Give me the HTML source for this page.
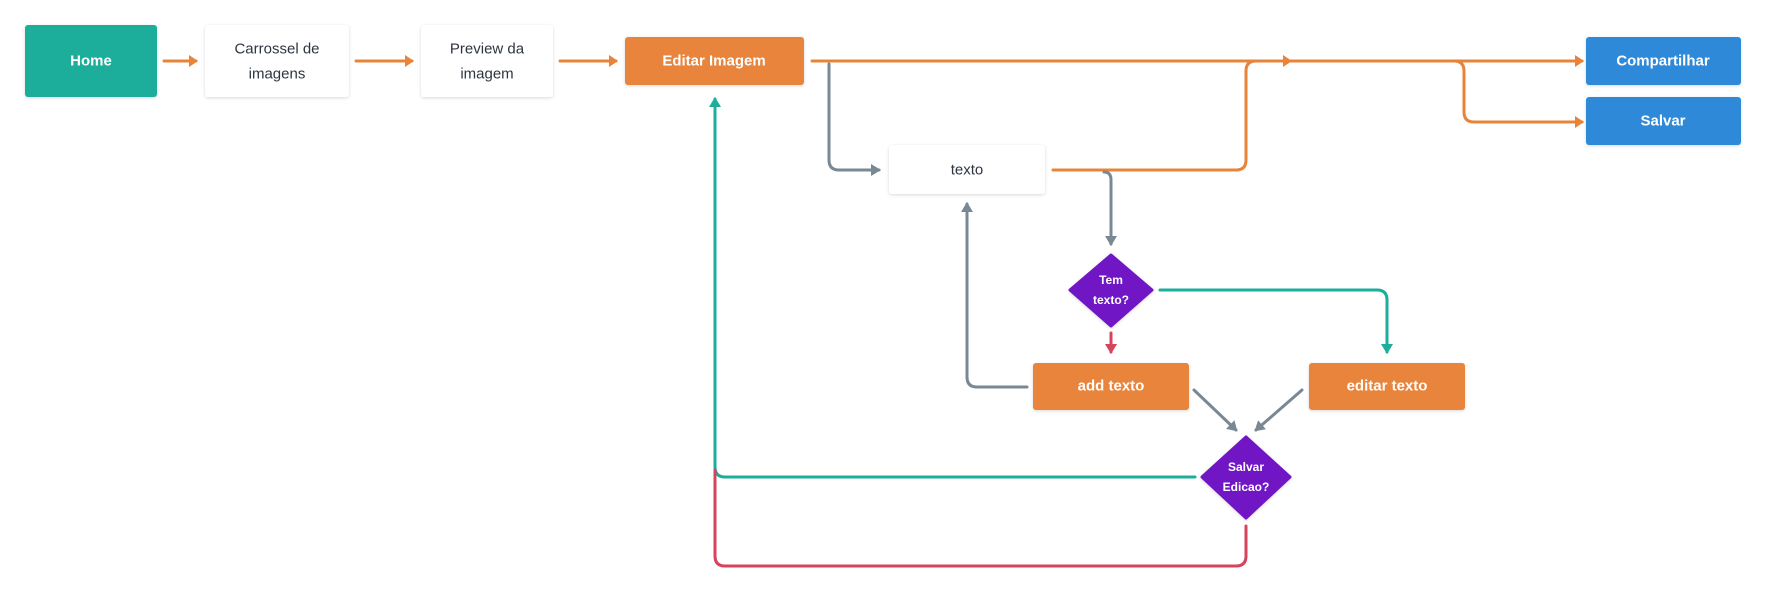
<!DOCTYPE html>
<html><head><meta charset="utf-8"><style>
html,body{margin:0;padding:0;background:#fff;}
svg{display:block;}
text{font-family:"Liberation Sans",sans-serif;font-size:15px;text-anchor:middle;dominant-baseline:central;}
.w{fill:#fff;font-weight:bold;}
.d{fill:#2d3540;}
</style></head><body>
<svg width="1766" height="594" viewBox="0 0 1766 594" xmlns="http://www.w3.org/2000/svg">
<defs>
<filter id="sh" x="-10%" y="-10%" width="120%" height="130%"><feDropShadow dx="0" dy="1" stdDeviation="1.5" flood-color="#000" flood-opacity="0.15"/></filter>
<marker id="ao" markerWidth="10" markerHeight="12" refX="7" refY="6" orient="auto" markerUnits="userSpaceOnUse"><path d="M0,0 L9,6 L0,12 z" fill="#e8843a"/></marker>
<marker id="ag" markerWidth="11" markerHeight="12" refX="8" refY="6" orient="auto" markerUnits="userSpaceOnUse"><path d="M0,0 L10,6 L0,12 z" fill="#7a8894"/></marker>
<marker id="at" markerWidth="11" markerHeight="12" refX="8" refY="6" orient="auto" markerUnits="userSpaceOnUse"><path d="M0,0 L10,6 L0,12 z" fill="#1aae9b"/></marker>
<marker id="ar" markerWidth="11" markerHeight="12" refX="8" refY="6" orient="auto" markerUnits="userSpaceOnUse"><path d="M0,0 L10,6 L0,12 z" fill="#d6435b"/></marker>
</defs>
<g fill="none" stroke-width="3" stroke-linecap="round" stroke-linejoin="round">
<path d="M164,61 H196" stroke="#e8843a" marker-end="url(#ao)"/>
<path d="M356,61 H412" stroke="#e8843a" marker-end="url(#ao)"/>
<path d="M560,61 H616" stroke="#e8843a" marker-end="url(#ao)"/>
<path d="M812,61 H1582" stroke="#e8843a" marker-end="url(#ao)"/>
<path d="M1268,61 H1290" stroke="#e8843a" marker-end="url(#ao)"/>
<path d="M1053,170 H1236 Q1246,170 1246,160 V71 Q1246,61 1256,61" stroke="#e8843a"/>
<path d="M1454,61 Q1464,61 1464,71 V112 Q1464,122 1474,122 H1582" stroke="#e8843a" marker-end="url(#ao)"/>
<path d="M829,64 V160 Q829,170 839,170 H879" stroke="#7a8894" marker-end="url(#ag)"/>
<path d="M1104,172 Q1111,172 1111,180 V244" stroke="#7a8894" marker-end="url(#ag)"/>
<path d="M1027,387 H977 Q967,387 967,377 V204" stroke="#7a8894" marker-end="url(#ag)"/>
<path d="M1194,390 L1236,430" stroke="#7a8894" marker-end="url(#ag)"/>
<path d="M1302,390 L1256,430" stroke="#7a8894" marker-end="url(#ag)"/>
<path d="M1160,290 H1377 Q1387,290 1387,300 V352" stroke="#1aae9b" marker-end="url(#at)"/>
<path d="M1195,477 H725 Q715,477 715,467 V99" stroke="#1aae9b" marker-end="url(#at)"/>
<path d="M1111,333 V352" stroke="#d6435b" marker-end="url(#ar)"/>
<path d="M1246,526 V556 Q1246,566 1236,566 H725 Q715,566 715,556 V470" stroke="#d6435b"/>
</g>
<g filter="url(#sh)">
<rect x="25" y="25" width="132" height="72" rx="3" fill="#1aae9b"/>
<rect x="205" y="25" width="144" height="72" rx="3" fill="#fff"/>
<rect x="421" y="25" width="132" height="72" rx="3" fill="#fff"/>
<rect x="625" y="37" width="179" height="48" rx="3" fill="#e8843a"/>
<rect x="1586" y="37" width="155" height="48" rx="3" fill="#2d8ad9"/>
<rect x="1586" y="97" width="155" height="48" rx="3" fill="#2d8ad9"/>
<rect x="889" y="145" width="156" height="49" rx="3" fill="#fff"/>
<rect x="1033" y="363" width="156" height="47" rx="3" fill="#e8843a"/>
<rect x="1309" y="363" width="156" height="47" rx="3" fill="#e8843a"/>
<path d="M1111,255 L1152,290 L1111,326 L1070,290 Z" fill="#7014c4" stroke="#7014c4" stroke-width="3" stroke-linejoin="round"/>
<path d="M1246,437 L1290,477 L1246,518 L1202,477 Z" fill="#7014c4" stroke="#7014c4" stroke-width="3" stroke-linejoin="round"/>
</g>
<text class="w" x="91" y="61">Home</text>
<text class="d" x="277" y="49">Carrossel de</text>
<text class="d" x="277" y="74">imagens</text>
<text class="d" x="487" y="49">Preview da</text>
<text class="d" x="487" y="74">imagem</text>
<text class="w" x="714" y="61">Editar Imagem</text>
<text class="w" x="1663" y="61">Compartilhar</text>
<text class="w" x="1663" y="121">Salvar</text>
<text class="d" x="967" y="170">texto</text>
<text class="w" x="1111" y="386">add texto</text>
<text class="w" x="1387" y="386">editar texto</text>
<text class="w" x="1111" y="280" style="font-size:12px">Tem</text>
<text class="w" x="1111" y="300" style="font-size:12px">texto?</text>
<text class="w" x="1246" y="467" style="font-size:12px">Salvar</text>
<text class="w" x="1246" y="487" style="font-size:12px">Edicao?</text>
</svg>
</body></html>
